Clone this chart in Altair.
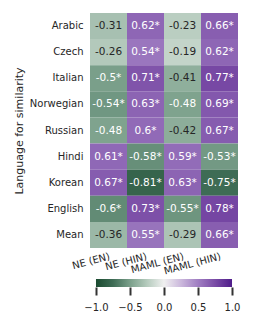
import altair as alt
import pandas as pd

rows = ["Arabic", "Czech", "Italian", "Norwegian", "Russian", "Hindi", "Korean", "English", "Mean"]
cols = ["NE (EN)", "NE (HIN)", "MAML (EN)", "MAML (HIN)"]

ne_en = [-0.31, -0.26, -0.5, -0.54, -0.48, 0.61, 0.67, -0.6, -0.36]
ne_en_sig = [0, 0, 1, 1, 0, 1, 1, 1, 0]
ne_hin = [0.62, 0.54, 0.71, 0.63, 0.6, -0.58, -0.81, 0.73, 0.55]
ne_hin_sig = [1, 1, 1, 1, 1, 1, 1, 1, 1]
maml_en = [-0.23, -0.19, -0.41, -0.48, -0.42, 0.59, 0.63, -0.55, -0.29]
maml_en_sig = [0, 0, 0, 0, 0, 1, 1, 1, 0]
maml_hin = [0.66, 0.62, 0.77, 0.69, 0.67, -0.53, -0.75, 0.78, 0.66]
maml_hin_sig = [1, 1, 1, 1, 1, 1, 1, 1, 1]

series = [(ne_en, ne_en_sig), (ne_hin, ne_hin_sig), (maml_en, maml_en_sig), (maml_hin, maml_hin_sig)]

recs = []
for c, (vals, sigs) in zip(cols, series):
    for r, v, s in zip(rows, vals, sigs):
        recs.append({"lang": r, "model": c, "value": v,
                     "label": f"{v:g}" + ("*" if s else "")})
df = pd.DataFrame(recs)

cmap_vals = [-1, -0.75, -0.5, -0.25, 0, 0.25, 0.5, 0.75, 1]
cmap_cols = ["#1b4b30", "#3e6c55", "#7a9f8a", "#b5cbbd", "#f0f0f0",
             "#cbb8dc", "#a07ec2", "#7a4ca6", "#4f1c8a"]
cbar_ticks = [-1, -0.5, 0, 0.5, 1]

base = alt.Chart(df).encode(
    x=alt.X("model:N", sort=cols,
            axis=alt.Axis(title=None, labelAngle=-15, ticks=False, domain=False,
                          labelPadding=3, labelFontSize=10, labelColor="#262626")),
    y=alt.Y("lang:N", sort=rows,
            axis=alt.Axis(title="Language for similarity", ticks=False, domain=False,
                          labelPadding=7, labelFontSize=10, labelColor="#262626",
                          titleFontSize=11, titleFontWeight="normal",
                          titleColor="#262626", titlePadding=5)),
)

rect = base.mark_rect().encode(
    color=alt.Color("value:Q",
                    scale=alt.Scale(domain=cmap_vals, range=cmap_cols, interpolate="rgb"),
                    legend=None)
)
text = base.mark_text(fontSize=10.5).encode(
    text="label:N",
    color=alt.condition("abs(datum.value) >= 0.45", alt.value("white"), alt.value("#262626")),
)
heat = alt.layer(rect, text).properties(width=148, height=235)

cb_df = pd.DataFrame({"lo": [cbar_ticks[0]], "hi": [cbar_ticks[-1]]})
grad = alt.Gradient(
    gradient="linear",
    stops=[alt.GradientStop(offset=(v + 1) / 2, color=c) for v, c in zip(cmap_vals, cmap_cols)],
    x1=0, x2=1, y1=0, y2=0,
)
cbar = alt.Chart(cb_df).mark_rect(color=grad).encode(
    x=alt.X("lo:Q", scale=alt.Scale(domain=[-1.088, 1.088], nice=False, zero=False),
            axis=alt.Axis(values=cbar_ticks, format=".1f", title=None, domain=False,
                          grid=False, tickSize=8, tickWidth=2, tickColor="#333333",
                          labelPadding=7, labelFontSize=10, labelColor="#262626")),
    x2="hi",
).properties(width=148, height=8)

chart = alt.vconcat(heat, cbar, spacing=31, bounds="flush").configure(
    font="DejaVu Sans"
).configure_view(stroke=None)

chart.save("out.html", embed_options={"renderer": "svg", "actions": False})
